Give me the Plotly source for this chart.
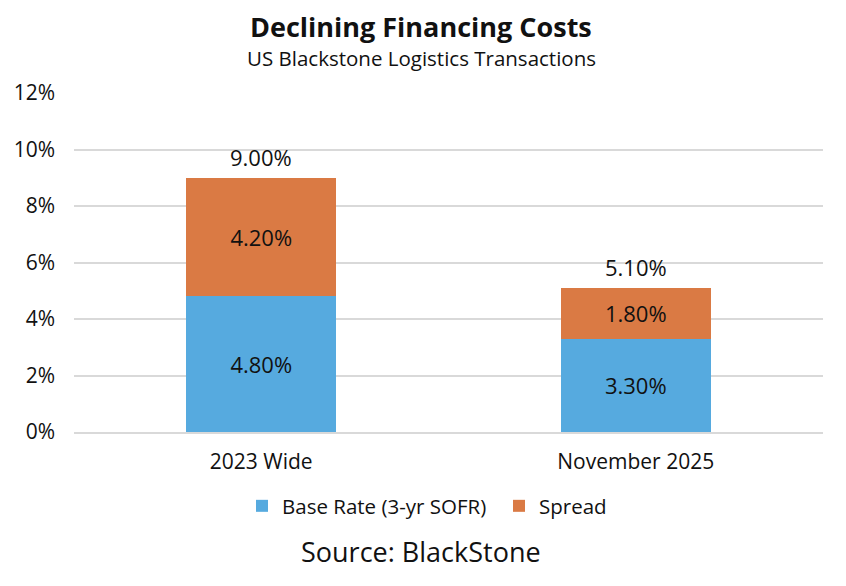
import plotly.graph_objects as go

categories = ["2023 Wide", "November 2025"]
base_rate = [0.048, 0.033]
spread = [0.042, 0.018]
totals = [0.090, 0.051]
series_names = ["Base Rate (3-yr SOFR)", "Spread"]
colors = ["#56AADF", "#DA7A44"]

FONT = "Open Sans, Lato, sans-serif"
OFF = 8  # page body offset compensation
W, H = 846, 586
L, R, T, B = 74 - OFF, 23 + OFF, 93 - OFF, 154 + OFF

fig = go.Figure()
fig.add_trace(go.Bar(
    x=categories, y=base_rate, name=series_names[0],
    marker=dict(color=colors[0], line=dict(width=0)),
    text=[f"{v*100:.2f}%" for v in base_rate], textposition="inside",
    insidetextanchor="middle", textfont=dict(size=22, color="#111111", family=FONT),
    hoverinfo="skip",
))
fig.add_trace(go.Bar(
    x=categories, y=spread, name=series_names[1],
    marker=dict(color=colors[1], line=dict(width=0)),
    text=[f"{v*100:.2f}%" for v in spread], textposition="inside",
    insidetextanchor="middle", textfont=dict(size=22, color="#111111", family=FONT),
    hoverinfo="skip",
))

plot_h = H - T - B
def py(pix):
    # pixel y in reference (page) -> paper coordinate
    return (H - B - (pix - OFF)) / plot_h
def px(pix):
    return (pix - OFF - L) / (W - L - R)

annotations = []
for c, t in zip(categories, totals):
    annotations.append(dict(x=c, y=t, xref="x", yref="y", text=f"{t*100:.2f}%",
                            showarrow=False, yanchor="middle", yshift=21,
                            font=dict(size=22, family=FONT, color="#111111")))
annotations += [
    dict(text="<b>Declining Financing Costs</b>", x=px(421), y=py(26), xref="paper", yref="paper",
         showarrow=False, font=dict(size=27, family=FONT), yanchor="middle"),
    dict(text="US Blackstone Logistics Transactions", x=px(421), y=py(58), xref="paper", yref="paper",
         showarrow=False, font=dict(size=20.5, family=FONT), yanchor="middle"),
    dict(text="Source: BlackStone", x=px(421), y=py(551), xref="paper", yref="paper",
         showarrow=False, font=dict(size=27, family=FONT), yanchor="middle"),
]

fig.update_layout(
    barmode="stack",
    bargap=0.6,
    width=W, height=H,
    margin=dict(l=L, r=R, t=T, b=B),
    plot_bgcolor="white", paper_bgcolor="white",
    font=dict(family=FONT, color="#111111"),
    uniformtext=dict(minsize=10, mode="show"),
    showlegend=True,
    legend=dict(orientation="h", x=px(242), xanchor="left", y=py(486), yanchor="top",
                font=dict(size=20.5, family=FONT), traceorder="normal",
                entrywidth=212, entrywidthmode="pixels"),
    xaxis=dict(showgrid=False, showline=True, linecolor="#d9d9d9", linewidth=1.5,
               tickfont=dict(size=21, family=FONT), ticks="", automargin=False,
               ticklabelstandoff=10),
    yaxis=dict(range=[0, 0.12], dtick=0.02, tickformat=".0%", showgrid=True,
               gridcolor="#d9d9d9", gridwidth=1.5, zeroline=False, ticks="",
               showline=False, tickfont=dict(size=21, family=FONT),
               ticklabelstandoff=18, automargin=False),
    annotations=annotations,
)

fig.write_html("out.html")
